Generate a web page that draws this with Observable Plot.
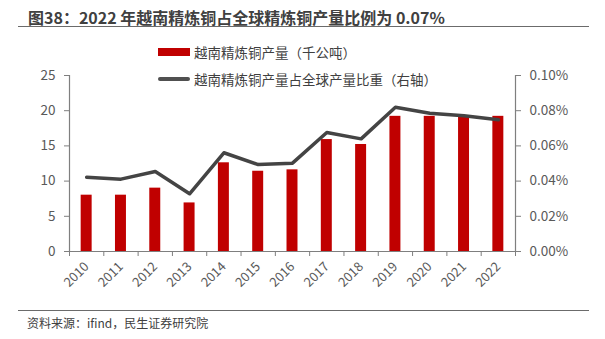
<!DOCTYPE html>
<html>
<head>
<meta charset="utf-8">
<script src="https://cdn.jsdelivr.net/npm/d3@7"></script>
<script src="https://cdn.jsdelivr.net/npm/@observablehq/plot@0.6"></script>
<style>
  html, body { margin: 0; padding: 0; background: #fff; }
  #wrap { position: relative; width: 605px; height: 339px; overflow: hidden;
    font-family: "Noto Sans CJK SC", "Noto Sans", sans-serif; }
  #chart { position: absolute; left: 0; top: 0; }
  .title { position: absolute; left: 28px; top: 5px; font-size: 16px; font-weight: bold; color: #404040; white-space: nowrap; line-height: 24px; }
  .rule { position: absolute; left: 18px; width: 571px; height: 0; border-top: 1.5px solid #6b6b6b; }
  .legend { position: absolute; left: 158px; font-size: 13.5px; color: #404040; white-space: nowrap; line-height: 18px; display: flex; align-items: center; }
  .sw { display: inline-block; width: 32px; margin-right: 4px; }
  .footer { position: absolute; left: 27px; top: 314px; font-size: 12px; color: #404040; white-space: nowrap; line-height: 18px; }
</style>
</head>
<body>
<div id="wrap">
  <div id="chart"></div>
  <div class="title">图38：2022 年越南精炼铜占全球精炼铜产量比例为 0.07%</div>
  <div class="rule" style="top:26px"></div>
  <div class="legend" style="top:43px"><span class="sw" style="height:8px;background:#C00000"></span>越南精炼铜产量（千公吨）</div>
  <div class="legend" style="top:70px"><span class="sw" style="height:4px;background:#505050;border-radius:2px"></span>越南精炼铜产量占全球产量比重（右轴）</div>
  <div class="rule" style="top:310px"></div>
  <div class="footer">资料来源：ifind，民生证券研究院</div>
</div>
<script>
const years = [2010, 2011, 2012, 2013, 2014, 2015, 2016, 2017, 2018, 2019, 2020, 2021, 2022];
const output = [8.0, 8.0, 9.0, 6.9, 12.6, 11.4, 11.6, 15.9, 15.2, 19.2, 19.2, 19.2, 19.2];
const sharePct = [0.0422, 0.0411, 0.0455, 0.0328, 0.0561, 0.0494, 0.0502, 0.0676, 0.0640, 0.0820, 0.0786, 0.0771, 0.0748];
const leftTicks = [0, 5, 10, 15, 20, 25];
const rightTickLabels = ["0.00%", "0.02%", "0.04%", "0.06%", "0.08%", "0.10%"];

const rightMax = 0.10, leftMax = 25;
const scaleR = leftMax / rightMax;
const data = years.map((y, i) => ({ year: y, output: output[i], share: sharePct[i] * scaleR }));
const boundaries = [...years.map(y => y - 0.5), years[years.length - 1] + 0.5];
const halfBar = 0.16;
const axisGray = "#7f7f7f";
const textGray = "#595959";

const chart = Plot.plot({
  width: 605,
  height: 339,
  marginTop: 75,
  marginBottom: 88,
  marginLeft: 69,
  marginRight: 90,
  style: { fontFamily: "'Noto Sans CJK SC', sans-serif", fontSize: "13px", color: textGray, background: "transparent" },
  x: { type: "linear", domain: [years[0] - 0.5, years[years.length - 1] + 0.5] },
  y: { domain: [0, leftMax] },
  marks: [
    Plot.rectY(data, { x1: d => d.year - halfBar, x2: d => d.year + halfBar, y: "output", fill: "#C00000" }),
    Plot.line(data, { x: "year", y: "share", stroke: "#444444", strokeWidth: 3.5, strokeLinejoin: "round" }),
    Plot.ruleY([0], { stroke: axisGray, strokeWidth: 1.2 }),
    Plot.ruleX([boundaries[0]], { stroke: axisGray, strokeWidth: 1.2 }),
    Plot.ruleX([boundaries[boundaries.length - 1]], { stroke: axisGray, strokeWidth: 1.2 }),
    Plot.axisY({ anchor: "left", ticks: leftTicks, tickFormat: d => String(d), tickSize: 5, tickPadding: 9, stroke: axisGray, fill: textGray, fontSize: 13.5, label: null }),
    Plot.axisY({ anchor: "right", ticks: leftTicks, tickFormat: (d, i) => rightTickLabels[leftTicks.indexOf(d)], tickSize: 5, tickPadding: 9, stroke: axisGray, fill: textGray, fontSize: 13.5, label: null }),
    Plot.axisX({ ticks: boundaries, tickFormat: () => "", tickSize: 5, stroke: axisGray, label: null }),
    Plot.axisX({ ticks: years, tickFormat: d => String(d), tickSize: 0, tickPadding: 13, tickRotate: -45, fill: textGray, fontSize: 13, label: null })
  ]
});
document.getElementById("chart").appendChild(chart);
</script>
</body>
</html>
